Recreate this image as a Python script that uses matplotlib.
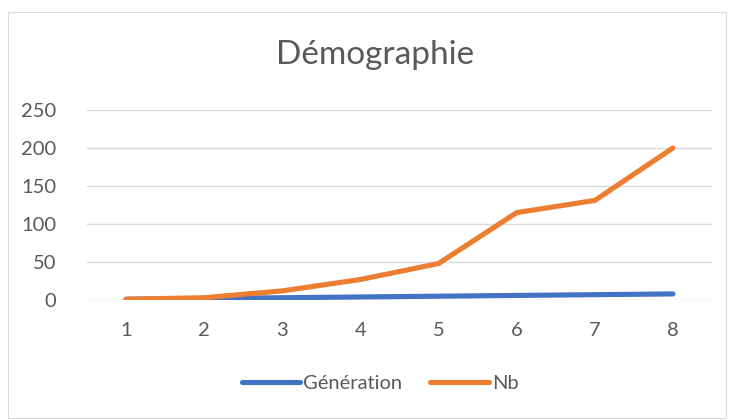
import matplotlib.pyplot as plt
from matplotlib.patches import Rectangle

plt.rcParams['font.family'] = ['Lato', 'DejaVu Sans']

categories = [1, 2, 3, 4, 5, 6, 7, 8]
generation = [1, 2, 3, 4, 5, 6, 7, 8]
nb = [1, 3, 12, 27, 48, 115, 131, 200]

text_col = '#595959'

fig = plt.figure(figsize=(7.29, 4.2), dpi=100)
fig.patches.append(Rectangle((8 / 729, 2 / 420), 718 / 729, 406 / 420, transform=fig.transFigure,
                             fill=False, edgecolor='#D9D9D9', linewidth=0.8))

ax = fig.add_axes([87 / 729, 1 - 300 / 420, 625 / 729, 190 / 420])
x = list(range(len(categories)))
ax.plot(x, generation, color='#4472C4', linewidth=3.7, solid_capstyle='round', label='Génération')
ax.plot(x, nb, color='#ED7D31', linewidth=3.7, solid_capstyle='round', label='Nb')

ax.set_xlim(-0.5, len(categories) - 0.5)
ax.set_ylim(0, 250)
ax.set_yticks(range(0, 251, 50))
ax.set_xticks(x)
ax.set_xticklabels([str(c) for c in categories])
ax.grid(axis='y', color='#D9D9D9', linewidth=1)
ax.set_axisbelow(True)
for s in ax.spines.values():
    s.set_visible(False)
ax.tick_params(length=0, labelsize=14.5, labelcolor=text_col)
ax.tick_params(axis='x', pad=16)
ax.tick_params(axis='y', pad=22)

fig.text(375 / 729, 1 - 55 / 420, 'Démographie', ha='center', va='center', fontsize=24, color=text_col)

leg = fig.legend(loc='center', bbox_to_anchor=(380 / 729, 1 - 383 / 420), ncol=2, frameon=False,
                 fontsize=14.5, handlelength=2.9, handletextpad=0.15, columnspacing=1.4)
for t in leg.get_texts():
    t.set_color(text_col)

fig.savefig('out.png', dpi=100)
